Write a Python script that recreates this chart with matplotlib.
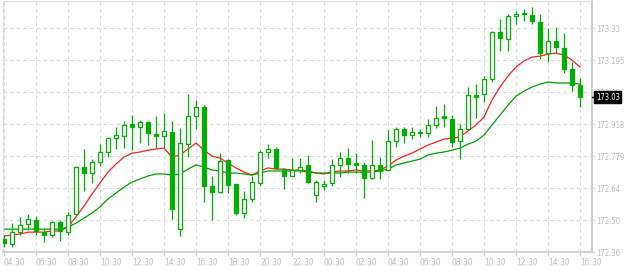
import numpy as np
import matplotlib.pyplot as plt
from matplotlib.patches import Rectangle
from matplotlib.transforms import blended_transform_factory

# 30 minute candles, 04:30 -> 16:30 next day
x_labels = ['04:30', '06:30', '08:30', '10:30', '12:30', '14:30', '16:30', '18:30',
            '20:30', '22:30', '00:30', '02:30', '04:30', '06:30', '08:30', '10:30',
            '12:30', '14:30', '16:30']
y_labels = ['172.36', '172.50', '172.64', '172.779', '172.918', '173.05', '173.195', '173.33']

opens = [172.416, 172.394, 172.446, 172.481, 172.499, 172.446, 172.433, 172.490, 172.446, 172.525,
         172.728, 172.702, 172.750, 172.793, 172.853, 172.862, 172.914, 172.901, 172.923, 172.871,
         172.862, 172.879, 172.459, 172.827, 172.949, 172.988, 172.646, 172.620, 172.758, 172.654,
         172.529, 172.590, 172.659, 172.793, 172.806, 172.719, 172.689, 172.715, 172.737, 172.607,
         172.646, 172.659, 172.737, 172.767, 172.745, 172.737, 172.680, 172.737, 172.715, 172.840,
         172.892, 172.866, 172.879, 172.875, 172.910, 172.949, 172.936, 172.840, 172.892, 173.040,
         173.044, 173.109, 173.313, 173.282, 173.382, 173.395, 173.386, 173.356, 173.221, 173.274,
         173.243, 173.152, 173.083]
highs = [172.433, 172.485, 172.512, 172.525, 172.516, 172.464, 172.494, 172.499, 172.533, 172.732,
         172.806, 172.762, 172.827, 172.858, 172.901, 172.927, 172.953, 172.931, 172.927, 172.949,
         172.962, 172.927, 172.897, 173.044, 173.018, 172.996, 172.689, 172.788, 172.762, 172.654,
         172.624, 172.689, 172.801, 172.827, 172.814, 172.724, 172.767, 172.767, 172.780, 172.672,
         172.672, 172.762, 172.793, 172.810, 172.788, 172.750, 172.845, 172.771, 172.888, 172.901,
         172.901, 172.901, 172.892, 172.936, 172.992, 173.001, 172.953, 172.914, 173.074, 173.087,
         173.122, 173.317, 173.369, 173.391, 173.403, 173.412, 173.421, 173.391, 173.330, 173.334,
         173.308, 173.183, 173.113]
lows = [172.381, 172.381, 172.433, 172.455, 172.433, 172.403, 172.425, 172.407, 172.433, 172.522,
        172.624, 172.659, 172.732, 172.771, 172.806, 172.810, 172.801, 172.832, 172.823, 172.810,
        172.810, 172.503, 172.429, 172.771, 172.892, 172.577, 172.499, 172.615, 172.615, 172.520,
        172.507, 172.577, 172.646, 172.767, 172.724, 172.633, 172.689, 172.702, 172.659, 172.577,
        172.628, 172.646, 172.685, 172.702, 172.702, 172.594, 172.676, 172.676, 172.715, 172.814,
        172.832, 172.849, 172.858, 172.858, 172.897, 172.901, 172.814, 172.762, 172.892, 172.940,
        173.009, 173.096, 173.230, 173.230, 173.347, 173.360, 173.347, 173.196, 173.183, 173.221,
        173.135, 173.057, 172.988]
closes = [172.399, 172.446, 172.477, 172.503, 172.451, 172.433, 172.490, 172.451, 172.520, 172.728,
          172.702, 172.750, 172.793, 172.853, 172.866, 172.910, 172.901, 172.923, 172.875, 172.862,
          172.884, 172.546, 172.832, 172.949, 172.988, 172.646, 172.620, 172.754, 172.650, 172.529,
          172.590, 172.663, 172.793, 172.806, 172.724, 172.689, 172.715, 172.728, 172.663, 172.663,
          172.654, 172.737, 172.767, 172.741, 172.737, 172.680, 172.737, 172.711, 172.840, 172.892,
          172.866, 172.879, 172.875, 172.910, 172.940, 172.940, 172.836, 172.892, 173.040, 173.031,
          173.109, 173.313, 173.287, 173.382, 173.391, 173.391, 173.360, 173.221, 173.274, 173.248,
          173.152, 173.083, 173.030]

# moving averages (fast = red, slow = green)
ma_fast = [172.429, 172.433, 172.438, 172.446, 172.446, 172.446, 172.451, 172.451, 172.468, 172.512,
           172.559, 172.611, 172.659, 172.706, 172.741, 172.771, 172.788, 172.793, 172.801, 172.806,
           172.810, 172.771, 172.780, 172.806, 172.832, 172.801, 172.775, 172.767, 172.745, 172.724,
           172.706, 172.693, 172.711, 172.724, 172.719, 172.719, 172.715, 172.715, 172.711, 172.702,
           172.698, 172.706, 172.711, 172.711, 172.715, 172.711, 172.711, 172.715, 172.732, 172.758,
           172.775, 172.788, 172.806, 172.823, 172.836, 172.849, 172.853, 172.858, 172.884, 172.910,
           172.944, 173.018, 173.074, 173.122, 173.161, 173.187, 173.204, 173.208, 173.217, 173.221,
           173.213, 173.191, 173.161]
ma_slow = [172.459, 172.459, 172.459, 172.459, 172.459, 172.459, 172.459, 172.459, 172.468, 172.485,
           172.507, 172.529, 172.555, 172.590, 172.615, 172.641, 172.663, 172.676, 172.689, 172.698,
           172.698, 172.693, 172.698, 172.719, 172.737, 172.728, 172.715, 172.711, 172.702, 172.702,
           172.698, 172.693, 172.702, 172.711, 172.711, 172.711, 172.711, 172.711, 172.706, 172.702,
           172.702, 172.702, 172.702, 172.706, 172.706, 172.706, 172.706, 172.711, 172.719, 172.737,
           172.745, 172.754, 172.762, 172.780, 172.788, 172.793, 172.801, 172.810, 172.827, 172.840,
           172.866, 172.910, 172.953, 172.996, 173.035, 173.057, 173.074, 173.087, 173.096, 173.092,
           173.092, 173.092, 173.087]

last_price = '173.03'

candle_col = '#00b000'
grid_col = '#d9d9d9'
label_col = '#bdbdbd'
fnt_x = dict(family='DejaVu Sans', fontstretch='condensed', fontsize=6.0)
fnt_y = dict(family='DejaVu Sans', fontstretch='condensed', fontsize=5.5)

fig = plt.figure(figsize=(6.24, 2.66), dpi=100)
ax = fig.add_axes([3 / 624, 14 / 266, 589 / 624, 251 / 266])

n = len(opens)
idx = np.arange(n)

# moving averages under the candles
ax.plot(idx, ma_fast, color='#ff2020', lw=0.9, zorder=2)
ax.plot(idx, ma_slow, color='#00a000', lw=0.9, zorder=2)

# candles
for i in range(n):
    o, h, l, c = opens[i], highs[i], lows[i], closes[i]
    ax.vlines(i, l, h, color=candle_col, lw=0.9, zorder=3)
    bottom = min(o, c)
    height = max(abs(c - o), 0.002)
    face = candle_col if c < o else 'white'
    ax.add_patch(Rectangle((i - 0.28, bottom), 0.56, height, facecolor=face,
                           edgecolor=candle_col, lw=0.9, zorder=4))

ax.set_xlim(-0.125, 73.5)
ax.set_ylim(172.36, 172.36 + 251 * (173.33 - 172.36) / 7 / 32)

ax.set_xticks(idx[::4])
ax.set_xticklabels(x_labels, ha='left', color=label_col, **fnt_x)
yt = np.linspace(172.36, 173.33, 8)
ax.set_yticks(yt)
ax.set_yticklabels(y_labels, color=label_col, **fnt_y)
ax.yaxis.tick_right()
ax.tick_params(axis='x', length=3, width=0.8, color='#cfcfcf', pad=1.2)
ax.tick_params(axis='y', length=2, width=0.8, color='#cfcfcf', pad=1.2)

ax.grid(True, color=grid_col, linestyle=(0, (3, 3)), lw=0.8, zorder=0)
ax.set_axisbelow(True)

for side in ['left', 'top']:
    ax.spines[side].set_color('#dedede')
    ax.spines[side].set_linewidth(0.8)
for side in ['bottom', 'right']:
    ax.spines[side].set_color('#d0d0d0')
    ax.spines[side].set_linewidth(1.5)

# current price marker
tr = blended_transform_factory(ax.transAxes, ax.transData)
ax.plot([1.0, 1.005], [closes[-1], closes[-1]], color='black', lw=1, transform=tr,
        clip_on=False, zorder=6)
ax.text(1.0065, closes[-1], last_price, transform=tr, ha='left', va='center',
        color='white', zorder=7,
        bbox=dict(boxstyle='square,pad=0.2', facecolor='black', edgecolor='black'), **fnt_y)

fig.savefig('out.png', dpi=100)
